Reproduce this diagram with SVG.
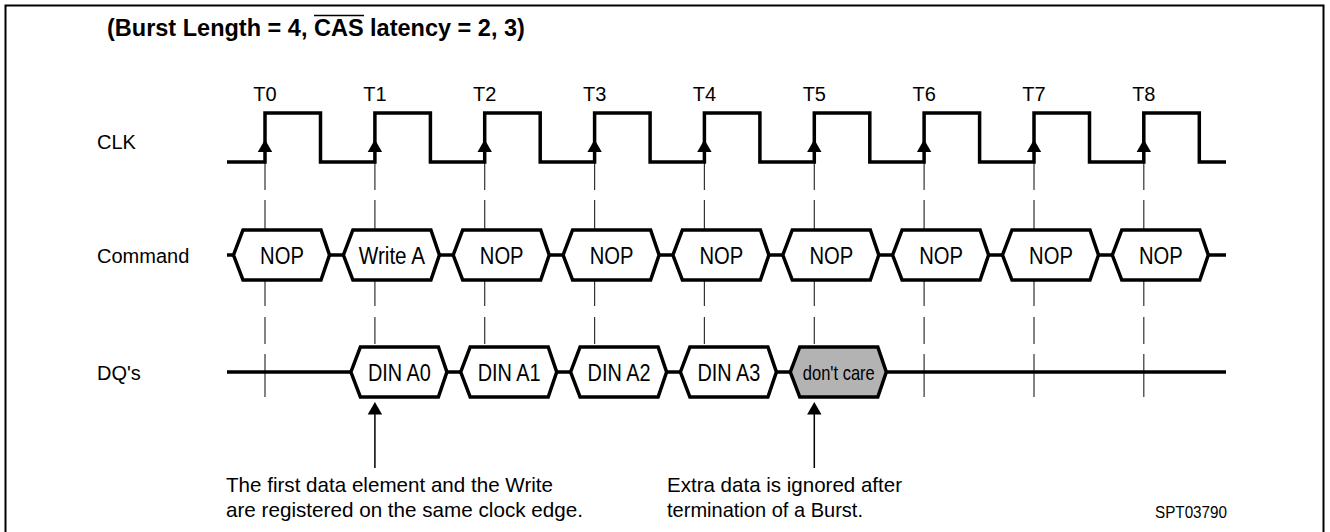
<svg xmlns="http://www.w3.org/2000/svg" xmlns:xlink="http://www.w3.org/1999/xlink" width="1330" height="532" viewBox="0 0 1330 532">
<style>
.t{font-family:"Liberation Sans Narrow","Liberation Sans",Arial,sans-serif;fill:#000}
.lbl{font-size:20px}
.hx{font-size:23px;text-anchor:middle}
.ttl{font-family:"Liberation Sans",Arial,sans-serif;font-size:23.5px;font-weight:bold}
.hexw{fill:#fff;stroke:#000;stroke-width:3.5;stroke-linejoin:miter}
.hexg{fill:#b3b3b3;stroke:#000;stroke-width:3.5;stroke-linejoin:miter}
.wave{fill:none;stroke:#000;stroke-width:3.5;stroke-linejoin:miter}
.dash{fill:none;stroke:#333;stroke-width:1.2}
.arr{fill:#000}
.shaft{stroke:#000;stroke-width:1.5}
</style>
<defs>
<path id="hexshape" d="M-31.5,0 L-22,-25 L56,-25 L64.5,0 L56,25 L-22,25 Z"/>
<path id="ah" d="M0,0 L7.2,12.5 L-7.2,12.5 Z"/>
</defs>
<rect x="5.5" y="5.5" width="1318" height="540" fill="#fff" stroke="#000" stroke-width="2"/>
<g id="title">
<text class="t ttl" x="107" y="36">(Burst Length = 4, CAS latency = 2, 3)</text>
<line x1="314" y1="15.5" x2="364" y2="15.5" stroke="#000" stroke-width="1.6"/>
</g>
<g id="row-labels">
<text class="t lbl" x="97" y="149">CLK</text>
<text class="t lbl" x="97" y="263">Command</text>
<text class="t lbl" x="97" y="380">DQ's</text>
</g>
<g id="connectors">
<path class="dash" d="M265,162V190M265,200V229M265,280V306M265,317V344M265,354V397
M374.9,162V190M374.9,200V229M374.9,280V306M374.9,317V344
M484.7,162V190M484.7,200V229M484.7,280V306M484.7,317V344
M594.6,162V190M594.6,200V229M594.6,280V306M594.6,317V344
M704.4,162V190M704.4,200V229M704.4,280V306M704.4,317V344
M814.3,162V190M814.3,200V229M814.3,280V306M814.3,317V344
M924.1,162V190M924.1,200V229M924.1,280V306M924.1,317V344M924.1,354V397
M1034,162V190M1034,200V229M1034,280V306M1034,317V344M1034,354V397
M1143.8,162V190M1143.8,200V229M1143.8,280V306M1143.8,317V344M1143.8,354V397"/>
<line class="wave" x1="227" y1="255" x2="1226" y2="255"/>
<line class="wave" x1="227" y1="372" x2="1226" y2="372"/>
<g id="note-arrows">
<line class="shaft" x1="374.9" y1="414" x2="374.9" y2="468"/>
<use href="#ah" xlink:href="#ah" class="arr" x="374.9" y="402"/>
<line class="shaft" x1="814.3" y1="414" x2="814.3" y2="468"/>
<use href="#ah" xlink:href="#ah" class="arr" x="814.3" y="402"/>
</g>
</g>
<g id="clk">
<path class="wave" d="M227,162H265V113H320.5V162H374.9V113H430.4V162H484.7V113H540.2V162H594.6V113H650.1V162H704.4V113H759.9V162H814.3V113H869.8V162H924.1V113H979.6V162H1034V113H1089.5V162H1143.8V113H1199.3V162H1226"/>
<g class="arr">
<use href="#ah" xlink:href="#ah" x="265" y="139.5"/>
<use href="#ah" xlink:href="#ah" x="374.9" y="139.5"/>
<use href="#ah" xlink:href="#ah" x="484.7" y="139.5"/>
<use href="#ah" xlink:href="#ah" x="594.6" y="139.5"/>
<use href="#ah" xlink:href="#ah" x="704.4" y="139.5"/>
<use href="#ah" xlink:href="#ah" x="814.3" y="139.5"/>
<use href="#ah" xlink:href="#ah" x="924.1" y="139.5"/>
<use href="#ah" xlink:href="#ah" x="1034" y="139.5"/>
<use href="#ah" xlink:href="#ah" x="1143.8" y="139.5"/>
</g>
<g class="t lbl" text-anchor="middle">
<text x="265" y="101">T0</text>
<text x="374.9" y="101">T1</text>
<text x="484.7" y="101">T2</text>
<text x="594.6" y="101">T3</text>
<text x="704.4" y="101">T4</text>
<text x="814.3" y="101">T5</text>
<text x="924.1" y="101">T6</text>
<text x="1034" y="101">T7</text>
<text x="1143.8" y="101">T8</text>
</g>
</g>
<g id="cmd-0"><use href="#hexshape" xlink:href="#hexshape" class="hexw" x="265" y="255"/><text class="t hx" x="282" y="264" textLength="43.8" lengthAdjust="spacingAndGlyphs">NOP</text></g>
<g id="cmd-1"><use href="#hexshape" xlink:href="#hexshape" class="hexw" x="374.9" y="255"/><text class="t hx" x="391.9" y="264" textLength="66.2" lengthAdjust="spacingAndGlyphs">Write A</text></g>
<g id="cmd-2"><use href="#hexshape" xlink:href="#hexshape" class="hexw" x="484.7" y="255"/><text class="t hx" x="501.7" y="264" textLength="43.8" lengthAdjust="spacingAndGlyphs">NOP</text></g>
<g id="cmd-3"><use href="#hexshape" xlink:href="#hexshape" class="hexw" x="594.6" y="255"/><text class="t hx" x="611.6" y="264" textLength="43.8" lengthAdjust="spacingAndGlyphs">NOP</text></g>
<g id="cmd-4"><use href="#hexshape" xlink:href="#hexshape" class="hexw" x="704.4" y="255"/><text class="t hx" x="721.4" y="264" textLength="43.8" lengthAdjust="spacingAndGlyphs">NOP</text></g>
<g id="cmd-5"><use href="#hexshape" xlink:href="#hexshape" class="hexw" x="814.3" y="255"/><text class="t hx" x="831.3" y="264" textLength="43.8" lengthAdjust="spacingAndGlyphs">NOP</text></g>
<g id="cmd-6"><use href="#hexshape" xlink:href="#hexshape" class="hexw" x="924.1" y="255"/><text class="t hx" x="941.1" y="264" textLength="43.8" lengthAdjust="spacingAndGlyphs">NOP</text></g>
<g id="cmd-7"><use href="#hexshape" xlink:href="#hexshape" class="hexw" x="1034" y="255"/><text class="t hx" x="1051" y="264" textLength="43.8" lengthAdjust="spacingAndGlyphs">NOP</text></g>
<g id="cmd-8"><use href="#hexshape" xlink:href="#hexshape" class="hexw" x="1143.8" y="255"/><text class="t hx" x="1160.8" y="264" textLength="43.8" lengthAdjust="spacingAndGlyphs">NOP</text></g>
<g id="dq-0"><use href="#hexshape" xlink:href="#hexshape" class="hexw" x="382.4" y="372"/><text class="t hx" x="399.4" y="381" textLength="63" lengthAdjust="spacingAndGlyphs">DIN A0</text></g>
<g id="dq-1"><use href="#hexshape" xlink:href="#hexshape" class="hexw" x="492.2" y="372"/><text class="t hx" x="509.2" y="381" textLength="63" lengthAdjust="spacingAndGlyphs">DIN A1</text></g>
<g id="dq-2"><use href="#hexshape" xlink:href="#hexshape" class="hexw" x="602.1" y="372"/><text class="t hx" x="619.1" y="381" textLength="63" lengthAdjust="spacingAndGlyphs">DIN A2</text></g>
<g id="dq-3"><use href="#hexshape" xlink:href="#hexshape" class="hexw" x="711.9" y="372"/><text class="t hx" x="728.9" y="381" textLength="63" lengthAdjust="spacingAndGlyphs">DIN A3</text></g>
<g id="dq-4"><use href="#hexshape" xlink:href="#hexshape" class="hexg" x="821.8" y="372"/><text class="t hx" x="838.8" y="380" style="font-size:21px" textLength="72" lengthAdjust="spacingAndGlyphs">don't care</text></g>
<g id="notes">
<text class="t" style="font-size:21px" x="226" y="492" textLength="327" lengthAdjust="spacingAndGlyphs">The first data element and the Write</text>
<text class="t" style="font-size:21px" x="226" y="517" textLength="357" lengthAdjust="spacingAndGlyphs">are registered on the same clock edge.</text>
<text class="t" style="font-size:21px" x="667" y="492" textLength="235" lengthAdjust="spacingAndGlyphs">Extra data is ignored after</text>
<text class="t" style="font-size:21px" x="667" y="517" textLength="196" lengthAdjust="spacingAndGlyphs">termination of a Burst.</text>
<text class="t" style="font-size:16px" x="1155" y="518" textLength="72" lengthAdjust="spacingAndGlyphs">SPT03790</text>
</g>
</svg>
